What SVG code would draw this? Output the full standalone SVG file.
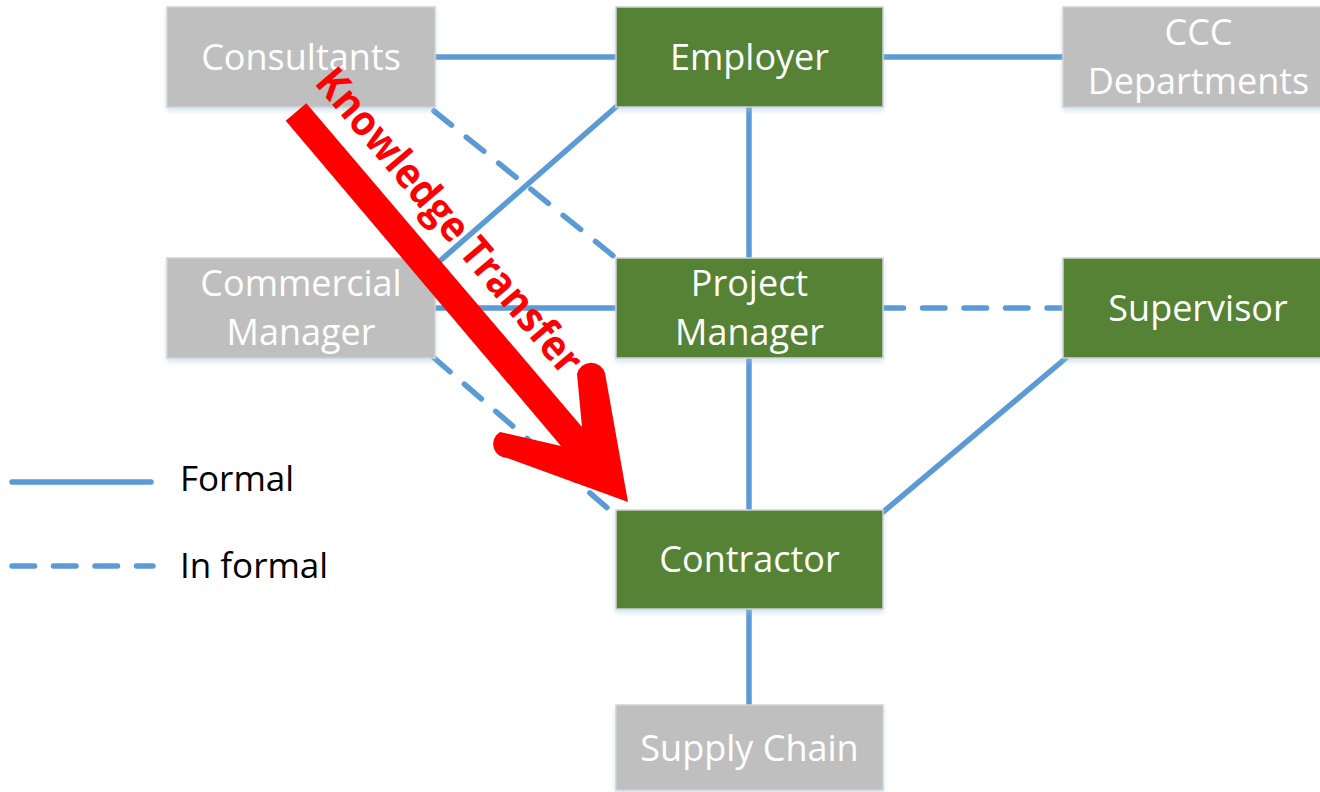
<svg xmlns="http://www.w3.org/2000/svg" width="1320" height="792" viewBox="0 0 1320 792">
<defs>
<filter id="sh" x="-10%" y="-10%" width="120%" height="130%">
<feDropShadow dx="0" dy="3" stdDeviation="2.5" flood-color="#9DC3E6" flood-opacity="0.45"/>
</filter>
<style>
.box rect{stroke:#d2d2d2;stroke-width:1.5;filter:url(#sh)}
.grey rect{fill:#bfbfbf}
.green rect{fill:#548235}
.box text{font-family:"Open Sans","Liberation Sans",sans-serif;font-size:36px;fill:#ffffff;text-anchor:middle}
.ln{stroke:#5b9bd5;stroke-width:5.5;stroke-linecap:round;fill:none}
.dash{stroke-dasharray:22.5 19}
.legend text{font-family:"Open Sans","Liberation Sans",sans-serif;font-size:35px;fill:#000000}
.kt{font-family:"Open Sans","Liberation Sans",sans-serif;font-size:42px;font-weight:bold;fill:#ff0000}
</style>
</defs>
<rect width="1320" height="792" fill="#ffffff"/>
<g id="connectors">
<line class="ln" x1="433" y1="57" x2="617" y2="57"/>
<line class="ln" x1="881" y1="57" x2="1064" y2="57"/>
<line class="ln dash" x1="434" y1="111" x2="616" y2="258"/>
<line class="ln" x1="617" y1="106" x2="441" y2="260"/>
<line class="ln" x1="749" y1="107" x2="749" y2="258"/>
<line class="ln" x1="433" y1="308" x2="617" y2="308"/>
<line class="ln dash" x1="881" y1="308" x2="1064" y2="308"/>
<line class="ln" x1="749" y1="358" x2="749" y2="510"/>
<line class="ln" x1="1066" y1="358" x2="882" y2="513"/>
<line class="ln dash" x1="433" y1="357" x2="612" y2="512"/>
<line class="ln" x1="749" y1="608" x2="749" y2="706"/>
</g>
<g id="consultants" class="box grey">
<rect x="167" y="7" width="268" height="100"/>
<text x="301" y="70">Consultants</text>
</g>
<g id="employer" class="box green">
<rect x="616" y="7" width="267" height="100"/>
<text x="749.5" y="70">Employer</text>
</g>
<g id="ccc-departments" class="box grey">
<rect x="1063" y="7" width="267" height="100"/>
<text x="1198.5" y="45">CCC</text>
<text x="1198.5" y="94">Departments</text>
</g>
<g id="commercial-manager" class="box grey">
<rect x="167" y="258" width="268" height="100"/>
<text x="301" y="296">Commercial</text>
<text x="301" y="345">Manager</text>
</g>
<g id="project-manager" class="box green">
<rect x="616" y="258" width="267" height="100"/>
<text x="749.5" y="296">Project</text>
<text x="749.5" y="345">Manager</text>
</g>
<g id="supervisor" class="box green">
<rect x="1063" y="258" width="267" height="100"/>
<text x="1198" y="321">Supervisor</text>
</g>
<g id="contractor" class="box green">
<rect x="616" y="510" width="267" height="99"/>
<text x="749.5" y="572">Contractor</text>
</g>
<g id="supply-chain" class="box grey">
<rect x="616" y="705" width="267" height="85"/>
<text x="749.5" y="761">Supply Chain</text>
</g>
<g id="knowledge-transfer">
<path d="M285.7,120.7 L306.3,103.3 L582,427 L577,374 A14.5,14.5 0 0 1 605,373 L628,502 L507,458 A14,14 0 0 1 500,432 L561,446 Z" fill="#ff0000"/>
<text class="kt" transform="translate(313.5,83) rotate(49.67)" textLength="386" lengthAdjust="spacingAndGlyphs">Knowledge Transfer</text>
</g>
<g id="legend" class="legend">
<line class="ln" x1="12" y1="482" x2="151" y2="482"/>
<line class="ln dash" x1="12" y1="566" x2="153" y2="566"/>
<text x="180" y="491">Formal</text>
<text x="180" y="578">In formal</text>
</g>
</svg>
